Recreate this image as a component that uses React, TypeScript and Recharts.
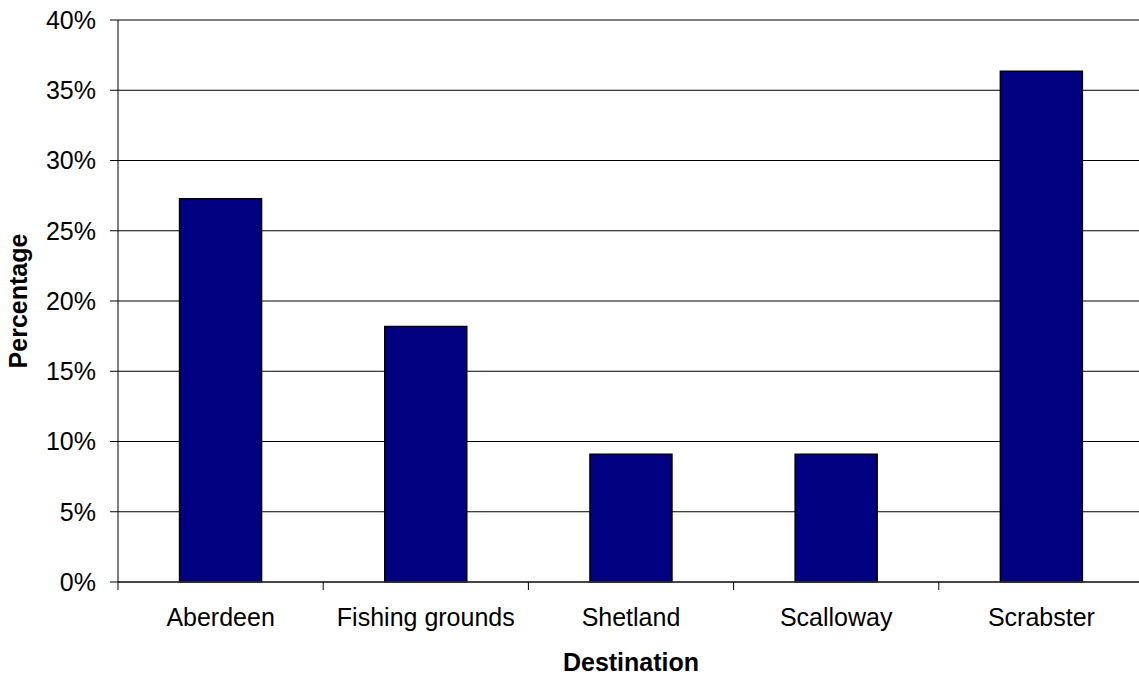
import { Bar, BarChart, CartesianGrid, XAxis, YAxis } from "recharts";

const destinations = ["Aberdeen", "Fishing grounds", "Shetland", "Scalloway", "Scrabster"];
const percentages = [27.27, 18.18, 9.09, 9.09, 36.36];
const yTicks = [0, 5, 10, 15, 20, 25, 30, 35, 40];

const data = destinations.map((destination, i) => ({
  destination,
  percentage: percentages[i],
}));

const font = "'Liberation Sans', Arial, sans-serif";

function CategoryTick(props: any) {
  const { x, y, payload, index, visibleTicksCount } = props;
  const half = payload.offset || 0;
  const isLast = index === visibleTicksCount - 1;
  return (
    <g>
      <line x1={x - half} y1={y} x2={x - half} y2={y + 8} stroke="#000" strokeWidth={1} />
      {isLast && <line x1={x + half} y1={y} x2={x + half} y2={y + 8} stroke="#000" strokeWidth={1} />}
      <text x={x} y={y + 44} textAnchor="middle" fontSize={25} fontFamily={font} fill="#000">
        {payload.value}
      </text>
    </g>
  );
}

export default function App() {
  return (
    <div style={{ position: "absolute", left: 0, top: 0, width: 1139, height: 677, overflow: "hidden", background: "#fff" }}>
      <BarChart
        width={1145}
        height={677}
        data={data}
        margin={{ top: 20, right: 1, left: 0, bottom: 0 }}
        barCategoryGap="30%"
      >
        <CartesianGrid vertical={false} stroke="#000" strokeWidth={1} />
        <XAxis
          dataKey="destination"
          height={95}
          stroke="#333"
          strokeWidth={1.5}
          tickLine={false}
          tickSize={0}
          tickMargin={0}
          tick={<CategoryTick />}
          interval={0}
          label={{
            value: "Destination",
            position: "insideBottom",
            offset: 6,
            fontSize: 25,
            fontWeight: "bold",
            fontFamily: font,
            fill: "#000",
          }}
        />
        <YAxis
          width={118}
          domain={[0, 40]}
          ticks={yTicks}
          interval={0}
          tickFormatter={(v: number) => `${v}%`}
          stroke="#000"
          tickSize={8}
          tickMargin={14}
          tick={{ fontSize: 25, fontFamily: font, fill: "#000" }}
          label={{
            value: "Percentage",
            angle: -90,
            position: "insideLeft",
            offset: 18,
            style: { textAnchor: "middle" },
            fontSize: 25,
            fontWeight: "bold",
            fontFamily: font,
            fill: "#000",
          }}
        />
        <Bar dataKey="percentage" fill="#000080" stroke="#000" strokeWidth={1.5} isAnimationActive={false} />
      </BarChart>
    </div>
  );
}
